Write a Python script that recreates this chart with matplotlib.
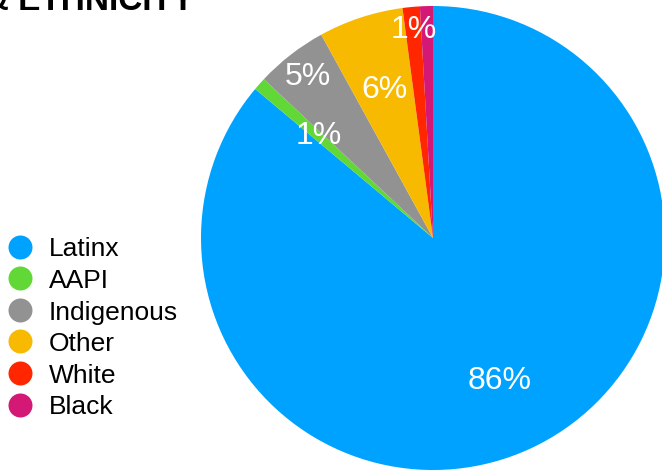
"""Pie chart of student race & ethnicity breakdown."""

import matplotlib

matplotlib.use("Agg")

import matplotlib.pyplot as plt  # noqa: E402
import numpy as np  # noqa: E402

plt.rcParams["font.family"] = ["Liberation Sans", "DejaVu Sans"]

# ---------------------------------------------------------------------------
# Data
# ---------------------------------------------------------------------------
groups = ["Latinx", "AAPI", "Indigenous", "Other", "White", "Black"]
shares = [86.1, 0.9, 5.0, 5.9, 1.2, 0.9]
pct_labels = ["86%", "1%", "5%", "6%", "1%", ""]

# styling
colors = ["#00A2FF", "#61D836", "#929292", "#F8BA00", "#FF2600", "#D41876"]
label_radius = [0.68, 0.66, 0.88, 0.67, 0.90, 0.67]

W, H = 662, 471
fig = plt.figure(figsize=(W / 100, H / 100), dpi=100)

# pie axes: centre (433, 238) px, radius 232 px
cx, cy, r = 433, 238, 232
ax = fig.add_axes([(cx - r) / W, (H - cy - r) / H, 2 * r / W, 2 * r / H])
wedges, _ = ax.pie(shares, colors=colors, startangle=90, counterclock=False,
                   radius=1.0, wedgeprops=dict(linewidth=0))
for w in wedges:
    w.set_clip_on(False)

# percentage labels placed at each wedge's mid angle
for w, txt, rad in zip(wedges, pct_labels, label_radius):
    if not txt:
        continue
    mid = np.deg2rad((w.theta1 + w.theta2) / 2)
    ax.text(rad * np.cos(mid), rad * np.sin(mid), txt, color="white",
            fontsize=23, ha="center", va="center")
ax.set_xlim(-1, 1)
ax.set_ylim(-1, 1)
ax.set_aspect("equal")
ax.axis("off")

# legend + cropped title drawn in pixel coordinates
ov = fig.add_axes([0, 0, 1, 1])
ov.set_xlim(0, W)
ov.set_ylim(H, 0)
ov.axis("off")
for i, (name, c) in enumerate(zip(groups, colors)):
    y = 246.5 + i * 31.6
    ov.scatter([20], [y], s=(24 * 0.72) ** 2, color=c, linewidths=0)
    ov.text(49, y + 10, name, fontsize=19, ha="left", va="baseline")

ov.text(194, 10, "RACE & ETHNICITY", fontsize=24, fontweight="bold",
        ha="right", va="baseline")

fig.savefig("out.png", dpi=100)
